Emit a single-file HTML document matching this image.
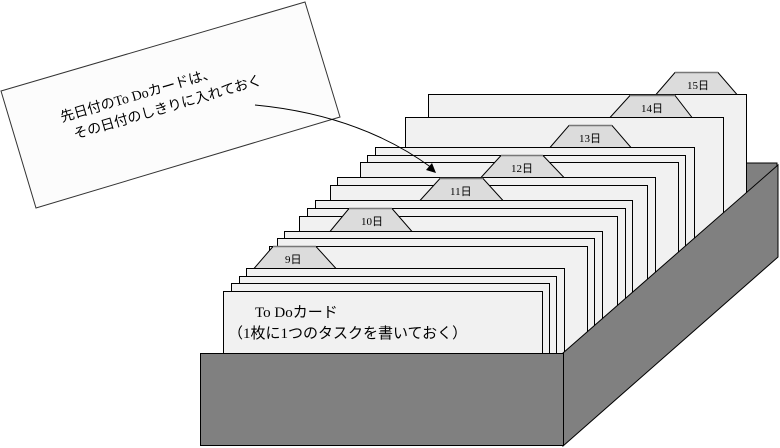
<!DOCTYPE html>
<html><head><meta charset="utf-8"><style>
html,body{margin:0;padding:0;background:#fff;width:780px;height:448px;overflow:hidden}
text{font-family:"Liberation Serif","Noto Sans CJK JP",sans-serif}
</style></head><body>
<svg width="780" height="448" viewBox="0 0 780 448" xmlns="http://www.w3.org/2000/svg">
<defs><clipPath id="c"><polygon points="0,0 780,0 778,165 563,353 0,353"/></clipPath></defs>
<polygon points="746,163 777,163 777,170 746,195" fill="#808080" stroke="#000" stroke-width="1"/>
<g clip-path="url(#c)">
<g stroke="#000" stroke-width="1" fill="#f1f1f1">
<rect x="428.5" y="94.5" width="318" height="270"/>
<polygon points="656,94.5 675,72.5 718,72.5 737,94.5" fill="#dcdcdc"/>
<rect x="405.5" y="117.5" width="318" height="250"/>
<polygon points="610,117.5 630,95.5 675,95.5 692,117.5" fill="#dcdcdc"/>
<rect x="375.5" y="147.5" width="319" height="220"/>
<polygon points="550,147.5 569,125.5 612,125.5 631,147.5" fill="#dcdcdc"/>
<rect x="367.5" y="155.5" width="318" height="210"/>
<rect x="360.5" y="162.5" width="318" height="200"/>
<polygon points="481,177.5 501,155.5 543,155.5 564,177.5" fill="#dcdcdc"/>
<rect x="337.5" y="177.5" width="318" height="190"/>
<rect x="330.5" y="185.5" width="317" height="180"/>
<polygon points="420,200.5 440,178.5 483,178.5 503,200.5" fill="#dcdcdc"/>
<rect x="315.5" y="200.5" width="317" height="160"/>
<rect x="307.5" y="208.5" width="318" height="150"/>
<rect x="299.5" y="216.5" width="318" height="140"/>
<polygon points="330,231.5 349,208.5 392,208.5 412,231.5" fill="#dcdcdc"/>
<rect x="284.5" y="231.5" width="318" height="130"/>
<rect x="277.5" y="238.5" width="317" height="120"/>
<rect x="269.5" y="246.5" width="318" height="110"/>
<polygon points="254,268.5 273,246.5 316,246.5 336,268.5" fill="#dcdcdc"/>
<rect x="246.5" y="268.5" width="318" height="90"/>
<rect x="239.5" y="276.5" width="317" height="80"/>
<rect x="231.5" y="283.5" width="318" height="75"/>
<rect x="223.5" y="291.5" width="319" height="65"/>
</g>
</g>
<g stroke="#777" stroke-width="1.5">
<line x1="675" y1="72.5" x2="718" y2="72.5"/><line x1="630" y1="95.5" x2="675" y2="95.5"/>
<line x1="569" y1="125.5" x2="612" y2="125.5"/><line x1="501" y1="155.5" x2="543" y2="155.5"/>
<line x1="440" y1="178.5" x2="483" y2="178.5"/><line x1="349" y1="208.5" x2="392" y2="208.5"/>
<line x1="273" y1="246.5" x2="316" y2="246.5"/>
</g>
<g font-size="11" fill="#000">
<text x="687" y="89">15日</text><text x="641" y="112">14日</text>
<text x="579" y="142">13日</text><text x="511" y="172">12日</text>
<text x="450" y="195">11日</text><text x="361" y="225">10日</text>
<text x="285" y="263">9日</text>
</g>
<text x="255" y="317" font-size="15">To Doカード</text>
<text x="228" y="338" font-size="15">（1枚に1つのタスクを書いておく）</text>
<polygon points="563,353 778,165 778,257 563,446" fill="#808080" stroke="#000" stroke-width="1"/>
<rect x="200.5" y="353.5" width="363" height="92" fill="#808080" stroke="#000"/>
<polygon points="1,91 305,2 340,117 36,208" fill="#fcfcfc" stroke="#333" stroke-width="1"/>
<g transform="rotate(-16.3 62 122)" font-size="14" fill="#000">
<text x="62" y="122">先日付のTo Doカードは、</text>
<text x="70" y="142">その日付のしきりに入れておく</text>
</g>
<path d="M255,105 Q360,115 432,168" fill="none" stroke="#000" stroke-width="1"/>
<polygon points="436,173 426,170 432,163" fill="#000"/>
</svg>
</body></html>
